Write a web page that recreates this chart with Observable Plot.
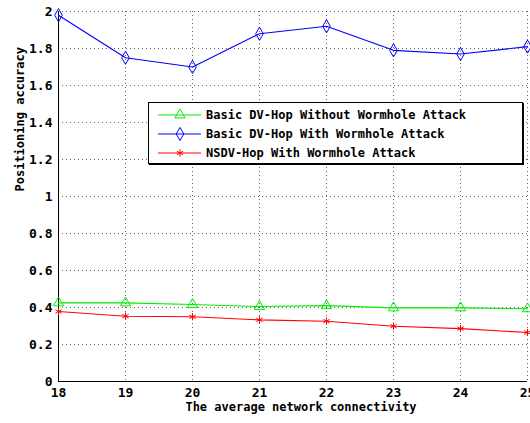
<!DOCTYPE html>
<html><head><meta charset="utf-8">
<script src="https://cdn.jsdelivr.net/npm/d3@7"></script>
<script src="https://cdn.jsdelivr.net/npm/@observablehq/plot@0.6"></script>
<style>
body{margin:0;background:#fff;}
#wrap{position:relative;width:530px;height:423px;overflow:hidden;}
#legend{position:absolute;left:148px;top:102px;width:373px;height:60px;background:#fff;border:1px solid #000;box-shadow:1px 1px 0 #000;font-family:"DejaVu Sans Mono",monospace;font-weight:bold;font-size:12px;}
.row{position:absolute;left:0;height:20px;display:flex;align-items:center;}
.row svg{display:block}
.row span{margin-left:4px;white-space:nowrap}
</style></head>
<body><div id="wrap"></div>
<script>
const connectivity = [18, 19, 20, 21, 22, 23, 24, 25];
const seriesNames = ["Basic DV-Hop Without Wormhole Attack", "Basic DV-Hop With Wormhole Attack", "NSDV-Hop With Wormhole Attack"];
const withoutAttack = [0.425, 0.425, 0.416, 0.405, 0.41, 0.398, 0.398, 0.393];
const withAttack = [1.98, 1.75, 1.70, 1.88, 1.92, 1.79, 1.77, 1.81];
const nsdvHop = [0.378, 0.353, 0.35, 0.333, 0.326, 0.299, 0.286, 0.265];
const yTicks = [0, 0.2, 0.4, 0.6, 0.8, 1, 1.2, 1.4, 1.6, 1.8, 2];
const xLabel = "The average network connectivity";
const yLabel = "Positioning accuracy";

const colors = ["#00ee00", "#0000ff", "#ff0000"];
const symbols = ["triangle", "diamond", "asterisk"];
const radii = [3.8, 4, 3.4];
const values = [withoutAttack, withAttack, nsdvHop];
const data = [];
values.forEach((arr, i) => arr.forEach((v, j) => data.push({x: connectivity[j], y: v, s: i})));

const seriesMarks = values.flatMap((arr, i) => {
  const d = data.filter(r => r.s === i);
  return [
    Plot.line(d, {x: "x", y: "y", stroke: colors[i], strokeWidth: 1.1}),
    Plot.dot(d, {x: "x", y: "y", stroke: colors[i], fill: "none", symbol: symbols[i], r: radii[i], strokeWidth: 1})
  ];
});

const chart = Plot.plot({
  width: 530, height: 423,
  marginLeft: 58, marginRight: 3, marginTop: 11, marginBottom: 42,
  style: {fontFamily: "DejaVu Sans Mono, monospace", fontWeight: "bold", fontSize: "12px", color: "#000", background: "#fff", overflow: "visible"},
  x: {domain: [18, 25], ticks: connectivity},
  y: {domain: [0, 2], ticks: yTicks},
  marks: [
    Plot.gridX(connectivity, {stroke: "#222", strokeOpacity: 0.7, strokeDasharray: "1,3"}),
    Plot.gridY(yTicks, {stroke: "#222", strokeOpacity: 0.7, strokeDasharray: "1,3"}),
    Plot.axisX(connectivity, {tickSize: 0, tickPadding: 6, label: null, tickFormat: d => String(d), fontSize: 13}),
    Plot.axisY(yTicks, {tickSize: 0, tickPadding: 6, label: null, tickFormat: d => String(d), fontSize: 13}),
    Plot.ruleX([18], {stroke: "#000", strokeWidth: 1}),
    Plot.ruleY([0], {stroke: "#000", strokeWidth: 1}),
    ...seriesMarks,
    Plot.text([xLabel], {frameAnchor: "bottom", dy: 29, dx: 8, fontSize: 12, fontWeight: "bold"}),
    Plot.text([yLabel], {frameAnchor: "left", rotate: -90, dx: -38, dy: -5, fontSize: 12, fontWeight: "bold"})
  ]
});
const wrap = document.getElementById("wrap");
wrap.appendChild(chart);

const legend = document.createElement("div");
legend.id = "legend";
seriesNames.forEach((name, i) => {
  const row = document.createElement("div");
  row.className = "row";
  row.style.top = (2 + i * 19) + "px";
  const svg = d3.create("svg").attr("width", 53).attr("height", 20);
  svg.append("line").attr("x1", 9).attr("x2", 52).attr("y1", 10).attr("y2", 10).attr("stroke", colors[i]).attr("stroke-width", 1.1);
  const sym = {triangle: d3.symbolTriangle, diamond: d3.symbolDiamond, asterisk: d3.symbolAsterisk}[symbols[i]];
  svg.append("path").attr("transform", "translate(31,10)")
    .attr("d", d3.symbol(sym, Math.PI * radii[i] * radii[i])())
    .attr("fill", "none").attr("stroke", colors[i]);
  row.appendChild(svg.node());
  const span = document.createElement("span");
  span.textContent = name;
  row.appendChild(span);
  legend.appendChild(row);
});
wrap.appendChild(legend);
</script></body></html>
